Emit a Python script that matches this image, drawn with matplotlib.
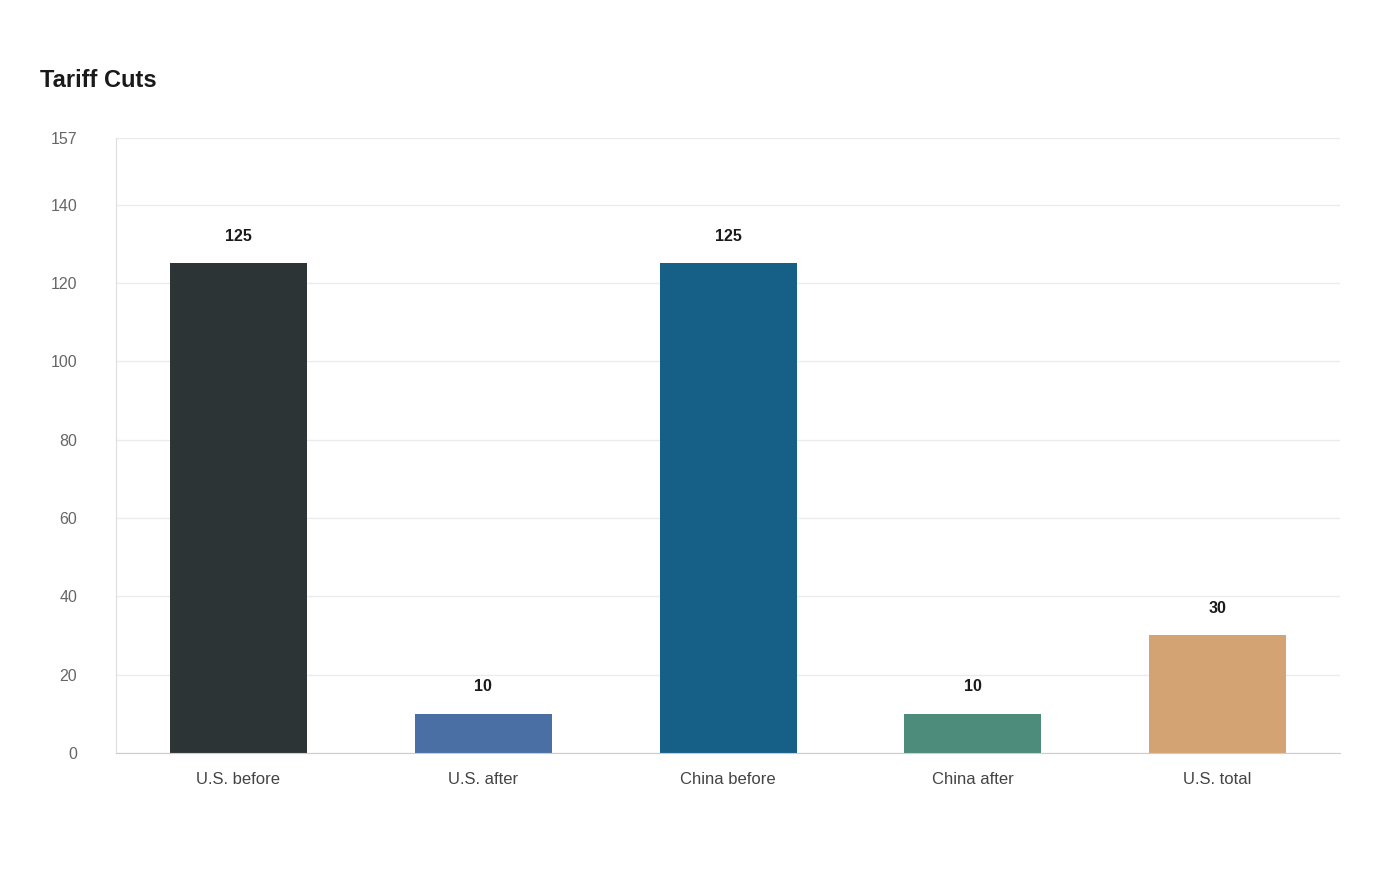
import matplotlib.pyplot as plt

plt.rcParams["font.family"] = ["Liberation Sans", "DejaVu Sans"]

categories = ["U.S. before", "U.S. after", "China before", "China after", "U.S. total"]
values = [125, 10, 125, 10, 30]
colors = ["#2d3436", "#4a6fa5", "#166088", "#4d8c7a", "#d4a373"]
yticks = [0, 20, 40, 60, 80, 100, 120, 140, 157]

fig = plt.figure(figsize=(14, 8.8), dpi=100)
ax = fig.add_axes([0.0829, 0.1443, 0.8743, 0.6989])

x = range(len(categories))
bars = ax.bar(x, values, width=0.56, color=colors, zorder=2)
for b, v in zip(bars, values):
    ax.text(b.get_x() + b.get_width() / 2, v + 5, f"{v}", ha="center", va="bottom",
            fontsize=11.5, fontweight="bold", color="#1a1a1a")

ax.set_xlim(-0.5, 4.5)
ax.set_ylim(0, 157)
ax.set_yticks(yticks)
ax.set_xticks(list(x))
ax.set_xticklabels(categories)
ax.tick_params(axis="y", length=0, labelsize=11.5, labelcolor="#666666", pad=28)
ax.tick_params(axis="x", length=0, labelsize=12, labelcolor="#444444", pad=14)
ax.grid(axis="y", color="#ebebeb", linewidth=1, zorder=0)
for s in ["top", "right"]:
    ax.spines[s].set_visible(False)
ax.spines["left"].set_color("#dddddd")
ax.spines["bottom"].set_color("#cccccc")

fig.text(0.0286, 0.909, "Tariff Cuts", fontsize=17, fontweight="bold",
         color="#1a1a1a", va="center")

fig.savefig("out.png", dpi=100)
